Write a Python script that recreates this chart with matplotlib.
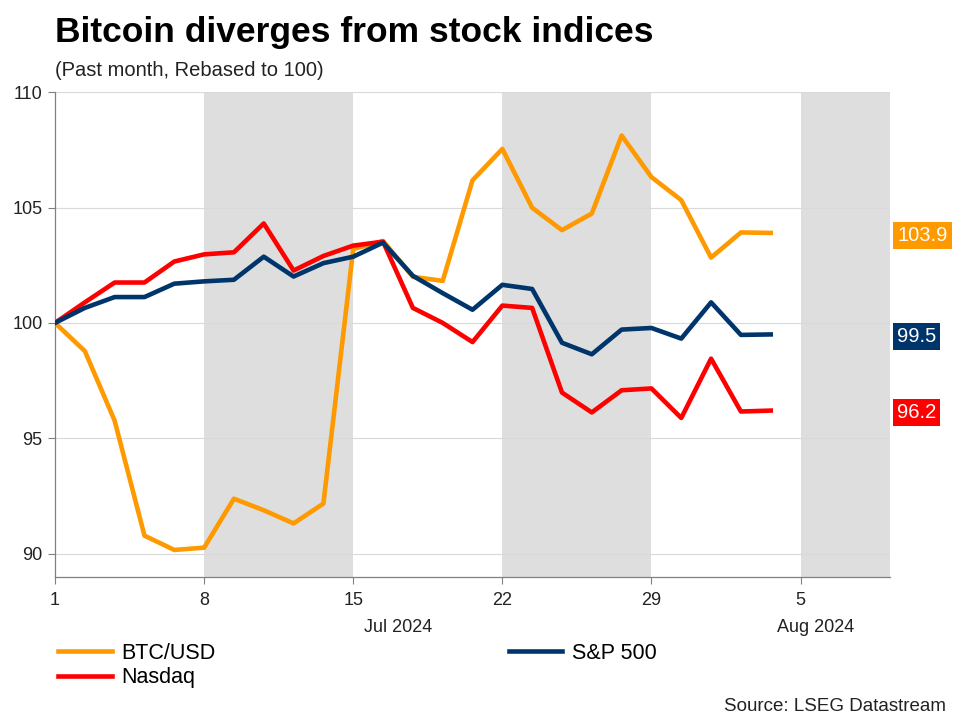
import matplotlib
matplotlib.use('Agg')
import matplotlib.pyplot as plt
import matplotlib.transforms as mtransforms
import numpy as np

plt.rcParams['font.family'] = ['Liberation Sans', 'DejaVu Sans']

# business-day index, Jul 1 .. Aug 2 2024
btc = [100, 98.78, 95.76, 90.78, 90.16, 90.26, 92.38, 91.88, 91.31, 92.17,
       103.2, 103.55, 102.0, 101.82, 106.18, 107.54, 104.99, 104.02, 104.74, 108.12,
       106.32, 105.32, 102.83, 103.92, 103.9]
spx = [100, 100.65, 101.12, 101.12, 101.70, 101.80, 101.87, 102.87, 102.01, 102.59,
       102.87, 103.48, 102.04, 101.29, 100.57, 101.65, 101.47, 99.14, 98.64, 99.71,
       99.78, 99.32, 100.89, 99.48, 99.5]
ndx = [100, 100.89, 101.75, 101.75, 102.66, 102.97, 103.06, 104.31, 102.27, 102.90,
       103.35, 103.52, 100.65, 100.0, 99.17, 100.75, 100.65, 96.98, 96.12, 97.08,
       97.16, 95.88, 98.45, 96.16, 96.2]

tick_pos = [0, 5, 10, 15, 20, 25]
tick_labels = ['1', '8', '15', '22', '29', '5']
month_pos = [11.5, 25.5]
month_labels = ['Jul 2024', 'Aug 2024']
shade_weeks = [(5, 10), (15, 20), (25, 28)]

c_btc = '#FF9900'
c_spx = '#00356B'
c_ndx = '#FF0000'
txt = '#222222'

fig = plt.figure(figsize=(9.6, 7.2), dpi=100)
ax = fig.add_axes([0.0573, 0.199, 0.8698, 0.673])

for a, b in shade_weeks:
    ax.axvspan(a, b, color='#DEDEDE', lw=0, zorder=0)

x = np.arange(len(btc))
ax.plot(x, btc, color=c_btc, lw=3.3, zorder=3, label='BTC/USD')
ax.plot(x, ndx, color=c_ndx, lw=3.3, zorder=4, label='Nasdaq')
ax.plot(x, spx, color=c_spx, lw=3.3, zorder=5, label='S&P 500')

ax.set_xlim(0, 28)
ax.set_ylim(89, 110)
ax.set_yticks([90, 95, 100, 105, 110])
ax.grid(axis='y', color='#D9D9D9', lw=0.8, zorder=1)
ax.set_axisbelow(True)
ax.set_xticks(tick_pos)
ax.set_xticklabels(tick_labels)
ax.tick_params(axis='both', colors='#808080', labelcolor=txt, labelsize=13, length=5, width=0.8)
ax.tick_params(axis='x', pad=6)
ax.tick_params(axis='y', pad=4)
for s in ['top', 'right']:
    ax.spines[s].set_visible(False)
for s in ['left', 'bottom']:
    ax.spines[s].set_color('#808080')
    ax.spines[s].set_linewidth(0.9)

trans = mtransforms.blended_transform_factory(ax.transData, ax.transAxes)
for p, lab in zip(month_pos, month_labels):
    ax.text(p, -0.104, lab, transform=trans, ha='center', va='center', fontsize=13, color=txt)

# end value boxes
trans_y = mtransforms.blended_transform_factory(ax.transAxes, ax.transData)
for series, col in [(btc, c_btc), (spx, c_spx), (ndx, c_ndx)]:
    ax.text(1.0085, series[-1] - 0.1, f'{series[-1]:.1f}', transform=trans_y, ha='left', va='center',
            fontsize=14.5, color='white',
            bbox=dict(boxstyle='square,pad=0.2', fc=col, ec='none'))

fig.text(0.057, 0.955, 'Bitcoin diverges from stock indices', fontsize=25.5, fontweight='bold',
         ha='left', va='center', color='black')
fig.text(0.057, 0.902, '(Past month, Rebased to 100)', fontsize=14.5, ha='left', va='center', color=txt)

handles, labels = ax.get_legend_handles_labels()
fig.legend(handles, labels, ncol=2, loc='upper left', bbox_to_anchor=(0.056, 0.113),
           frameon=False, fontsize=15.5, handlelength=2.5, handletextpad=0.45,
           columnspacing=13.6, labelspacing=0.15, borderaxespad=0, borderpad=0.2)

fig.text(0.985, 0.019, 'Source: LSEG Datastream', fontsize=13.5, ha='right', va='center', color=txt)

fig.savefig('out.png', dpi=100)
